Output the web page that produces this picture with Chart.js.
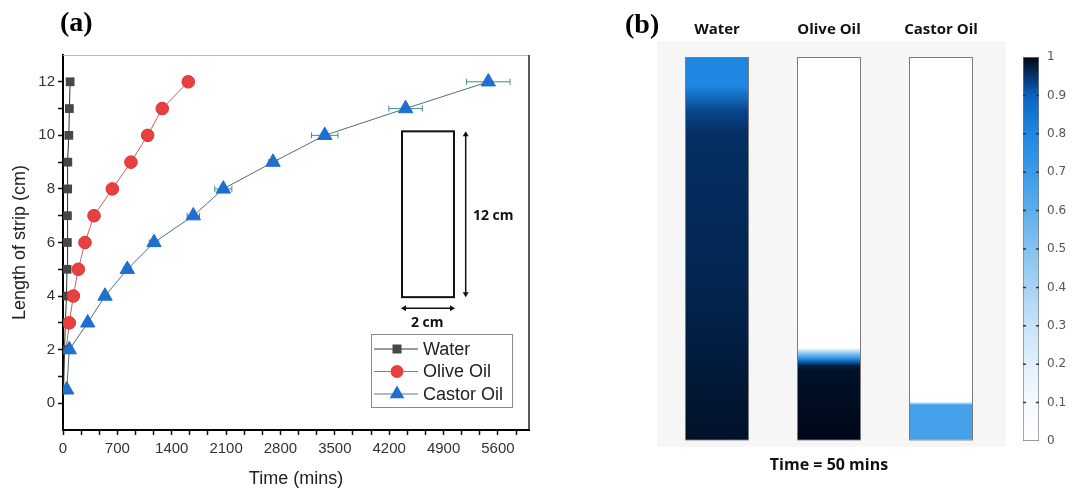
<!DOCTYPE html>
<html>
<head>
<meta charset="utf-8">
<script src="https://cdn.jsdelivr.net/npm/chart.js@4.4.1/dist/chart.umd.min.js"></script>
<style>
  body { margin: 0; background: #fff; width: 1076px; height: 492px; position: relative; overflow: hidden; }
  canvas { position: absolute; top: 0; }
  #chartA { left: 0; }
  #chartB { left: 600px; }
  #chartC { left: 1000px; }
</style>
</head>
<body>
<canvas id="chartA" width="560" height="492"></canvas>
<canvas id="chartB" width="420" height="492"></canvas>
<canvas id="chartC" width="76" height="492"></canvas>
<script>
// ---- panel (a) data: length wetted vs time ----
const WATER_LEN  = [0.5, 2, 3, 4, 5, 6, 7, 8, 9, 10, 11, 12];
const WATER_TIME = [8, 20, 30, 45, 52, 56, 57, 60, 62, 75, 82, 92];
const OLIVE_LEN  = [2, 3, 4, 5, 6, 7, 8, 9, 10, 11, 12];
const OLIVE_TIME = [40, 81, 133, 197, 283, 399, 635, 875, 1090, 1278, 1613];
const CASTOR_LEN  = [0.5, 2, 3, 4, 5, 6, 7, 8, 9, 10, 11, 12];
const CASTOR_TIME = [48, 81, 318, 541, 828, 1172, 1678, 2064, 2704, 3370, 4411, 5476];
const CASTOR_TIME_ERR = [20, 25, 30, 40, 50, 60, 80, 110, 60, 170, 215, 280];

const X_TICKS = [0, 700, 1400, 2100, 2800, 3500, 4200, 4900, 5600];
const Y_TICKS = [0, 2, 4, 6, 8, 10, 12];

// ---- panel (b) data: saturation profiles along the 12 cm strip at t = 50 min ----
const STRIPS = ['Water', 'Olive Oil', 'Castor Oil'];
const STRIP_LEN = [12, 12, 12];
const WATER_PROFILE_CM = [12, 11.1, 10.3, 9.6, 5, 0];
const WATER_PROFILE_S  = [0.80, 0.80, 0.93, 0.955, 0.965, 0.99];
const OLIVE_PROFILE_CM = [12, 2.9, 2.75, 2.55, 2.35, 2.2, 0];
const OLIVE_PROFILE_S  = [0, 0, 0.45, 0.80, 0.97, 0.99, 1];
const CASTOR_PROFILE_CM = [12, 1.22, 1.12, 0];
const CASTOR_PROFILE_S  = [0, 0, 0.67, 0.67];

// colour scale
const CMAP_LEVELS = [0, 0.1, 0.2, 0.3, 0.4, 0.5, 0.6, 0.7, 0.8, 0.9, 0.95, 1];
const CMAP_COLORS = ['#ffffff', '#f5fafe', '#e2f0fc', '#c6e3f8', '#a6d3f4', '#84c2f0',
                     '#5eaeec', '#3a9be8', '#1e88e3', '#0b62c0', '#04336a', '#000818'];
const CBAR_TICKS = [0, 0.1, 0.2, 0.3, 0.4, 0.5, 0.6, 0.7, 0.8, 0.9, 1];

Chart.defaults.font.family = "'Liberation Sans', Arial, sans-serif";
Chart.defaults.color = '#333';

function hexToRgb(h) {
  const n = parseInt(h.slice(1), 16);
  return [(n >> 16) & 255, (n >> 8) & 255, n & 255];
}
function colormap(v) {
  for (let i = 1; i < CMAP_LEVELS.length; i++) {
    if (v <= CMAP_LEVELS[i]) {
      const t = (v - CMAP_LEVELS[i-1]) / (CMAP_LEVELS[i] - CMAP_LEVELS[i-1]);
      const a = hexToRgb(CMAP_COLORS[i-1]), b = hexToRgb(CMAP_COLORS[i]);
      const c = a.map((x, k) => Math.round(x + (b[k] - x) * t));
      return 'rgb(' + c.join(',') + ')';
    }
  }
  return CMAP_COLORS[CMAP_COLORS.length - 1];
}
function toPoints(xs, ys) { return xs.map((x, i) => ({x: x, y: ys[i]})); }

function xTickValues() {
  const out = [];
  X_TICKS.forEach(m => { for (let k = 0; k < 3; k++) { const v = m + k * 700 / 3; if (v <= 6000) out.push(v); } });
  return out;
}

function arrowHead(c, x, y, dir) {
  // dir: 'up','down','left','right'
  const s = 5;
  c.beginPath();
  if (dir === 'up')    { c.moveTo(x, y); c.lineTo(x - 3, y + s); c.lineTo(x + 3, y + s); }
  if (dir === 'down')  { c.moveTo(x, y); c.lineTo(x - 3, y - s); c.lineTo(x + 3, y - s); }
  if (dir === 'left')  { c.moveTo(x, y); c.lineTo(x + s, y - 3); c.lineTo(x + s, y + 3); }
  if (dir === 'right') { c.moveTo(x, y); c.lineTo(x - s, y - 3); c.lineTo(x - s, y + 3); }
  c.closePath();
  c.fill();
}

function marker(c, style, x, y, color) {
  c.fillStyle = color;
  c.beginPath();
  if (style === 'rect') { c.fillRect(x - 4.5, y - 4.5, 9, 9); return; }
  if (style === 'circle') { c.arc(x, y, 6.5, 0, Math.PI * 2); }
  if (style === 'triangle') { c.moveTo(x, y - 8.5); c.lineTo(x + 7.4, y + 4.3); c.lineTo(x - 7.4, y + 4.3); c.closePath(); }
  c.fill();
}

const extrasA = {
  id: 'extrasA',
  beforeDatasetsDraw(chart) {
    // horizontal error bars of castor oil
    const c = chart.ctx, xs = chart.scales.x, ys = chart.scales.y;
    c.save();
    c.strokeStyle = '#3c8f8c';
    c.lineWidth = 1;
    CASTOR_TIME.forEach((t, i) => {
      const e = CASTOR_TIME_ERR[i];
      const y = ys.getPixelForValue(CASTOR_LEN[i]);
      const x0 = xs.getPixelForValue(t - e), x1 = xs.getPixelForValue(t + e);
      c.beginPath();
      c.moveTo(x0, y); c.lineTo(x1, y);
      c.moveTo(x0, y - 3); c.lineTo(x0, y + 3);
      c.moveTo(x1, y - 3); c.lineTo(x1, y + 3);
      c.stroke();
    });
    c.restore();
  },
  afterDraw(chart) {
    const c = chart.ctx, a = chart.chartArea, xs = chart.scales.x, ys = chart.scales.y;
    c.save();
    // top and right frame
    c.strokeStyle = '#bbbbbb'; c.lineWidth = 1;
    c.beginPath(); c.moveTo(a.left, a.top + 0.5); c.lineTo(a.right, a.top + 0.5); c.stroke();
    c.strokeStyle = '#222'; c.lineWidth = 1.5;
    c.beginPath(); c.moveTo(a.right, a.top); c.lineTo(a.right, a.bottom); c.stroke();

    // inset: strip schematic
    const rl = xs.getPixelForValue(4365), rr = xs.getPixelForValue(5034);
    const rt = ys.getPixelForValue(10.15), rb = ys.getPixelForValue(3.96);
    c.strokeStyle = '#111'; c.lineWidth = 2;
    c.strokeRect(rl, rt, rr - rl, rb - rt);
    c.fillStyle = '#111'; c.lineWidth = 1.5;
    const ax = xs.getPixelForValue(5185);
    c.beginPath(); c.moveTo(ax, rt + 2); c.lineTo(ax, rb - 2); c.stroke();
    arrowHead(c, ax, rt, 'up'); arrowHead(c, ax, rb, 'down');
    const ay = ys.getPixelForValue(3.55);
    c.beginPath(); c.moveTo(rl + 2, ay); c.lineTo(rr - 2, ay); c.stroke();
    arrowHead(c, rl - 1, ay, 'left'); arrowHead(c, rr + 1, ay, 'right');
    c.font = "bold 14px 'Open Sans', sans-serif";
    c.textAlign = 'center'; c.textBaseline = 'middle';
    c.fillText('12 cm', xs.getPixelForValue(5540), ys.getPixelForValue(7.0));
    c.fillText('2 cm', xs.getPixelForValue(4690), ys.getPixelForValue(3.0));

    // legend
    const lx = 371, ly = 334, lw = 141, lh = 73;
    c.fillStyle = '#fff'; c.fillRect(lx, ly, lw, lh);
    c.strokeStyle = '#8a8a8a'; c.lineWidth = 1;
    c.strokeRect(lx + 0.5, ly + 0.5, lw, lh);
    const entries = [
      ['Water', '#333333', 'rect', '#474747'],
      ['Olive Oil', '#c46060', 'circle', '#e8403f'],
      ['Castor Oil', '#5a7a7a', 'triangle', '#1e6fd0']
    ];
    c.font = "18px 'Liberation Sans', Arial, sans-serif";
    c.textAlign = 'left'; c.textBaseline = 'middle';
    entries.forEach((e, i) => {
      const y = ly + 15 + i * 22.5;
      c.strokeStyle = e[1]; c.lineWidth = 1;
      c.beginPath(); c.moveTo(lx + 3, y); c.lineTo(lx + 47, y); c.stroke();
      marker(c, e[2], lx + 26, y, e[3]);
      c.fillStyle = '#222';
      c.fillText(e[0], lx + 52, y + 1);
    });

    // panel label
    c.fillStyle = '#000';
    c.font = "bold 28px 'Liberation Serif', 'Times New Roman', serif";
    c.textAlign = 'left'; c.textBaseline = 'alphabetic';
    c.fillText('(a)', 60, 31);
    c.restore();
  }
};

new Chart(document.getElementById('chartA'), {
  type: 'line',
  data: {
    datasets: [
      {
        label: 'Water', data: toPoints(WATER_TIME, WATER_LEN), order: 3,
        borderColor: '#333333', borderWidth: 1, backgroundColor: '#474747',
        pointStyle: 'rect', pointRadius: 6.2, pointBorderWidth: 0, tension: 0
      },
      {
        label: 'Olive Oil', data: toPoints(OLIVE_TIME, OLIVE_LEN), order: 2,
        borderColor: '#c46060', borderWidth: 1, backgroundColor: '#e8403f',
        pointBorderColor: '#d83434', pointBorderWidth: 1,
        pointStyle: 'circle', pointRadius: (ctx) => ctx.dataIndex === 0 ? 0 : 6.3, tension: 0
      },
      {
        label: 'Castor Oil', data: toPoints(CASTOR_TIME, CASTOR_LEN), order: 1,
        borderColor: '#4f6f6f', borderWidth: 1, backgroundColor: '#1e6fd0',
        pointBorderColor: '#1e6fd0', pointBorderWidth: 1,
        pointStyle: 'triangle', pointRadius: 8.3, tension: 0
      }
    ]
  },
  options: {
    responsive: false,
    animation: false,
    events: [],
    layout: { padding: { left: 0, top: 55, right: 31, bottom: 0 } },
    plugins: { legend: { display: false }, tooltip: { enabled: false } },
    scales: {
      x: {
        type: 'linear', min: 0, max: 6000,
        afterBuildTicks: (axis) => { axis.ticks = xTickValues().map(v => ({value: v})); },
        afterFit: (axis) => { axis.height = 62; },
        ticks: {
          autoSkip: false, maxRotation: 0, padding: 5,
          font: { size: 15 }, color: '#333',
          callback: (v) => {
            const r = Math.round(v);
            return (Math.abs(v - r) < 0.01 && X_TICKS.includes(r)) ? String(r) : '';
          }
        },
        grid: { drawOnChartArea: false, tickLength: 5, color: '#111', tickWidth: 1.5 },
        border: { color: '#000', width: 2 },
        title: { display: true, text: 'Time (mins)', font: { size: 18 }, color: '#222', padding: { top: 0, bottom: 2 } }
      },
      y: {
        type: 'linear', min: -1, max: 13,
        afterBuildTicks: (axis) => {
          const t = []; for (let v = 0; v <= 12; v++) t.push({value: v}); axis.ticks = t;
        },
        afterFit: (axis) => { axis.width = 63; },
        ticks: {
          autoSkip: false, padding: 3, font: { size: 15 }, color: '#333',
          callback: (v) => Y_TICKS.includes(v) ? String(v) : ''
        },
        grid: { drawOnChartArea: false, tickLength: 5, color: '#111', tickWidth: 1.5 },
        border: { color: '#000', width: 2 },
        title: { display: true, text: 'Length of strip (cm)', font: { size: 18 }, color: '#222', padding: { top: 9, bottom: 0 } }
      }
    }
  },
  plugins: [extrasA]
});

// ---- panel (b) ----
const PROFILES_CM = [WATER_PROFILE_CM, OLIVE_PROFILE_CM, CASTOR_PROFILE_CM];
const PROFILES_S = [WATER_PROFILE_S, OLIVE_PROFILE_S, CASTOR_PROFILE_S];

const extrasB = {
  id: 'extrasB',
  beforeDraw(chart) {
    const c = chart.ctx, a = chart.chartArea;
    c.save();
    c.fillStyle = '#f6f6f6';
    c.fillRect(a.left - 4, a.top - 16, a.right - a.left + 13, a.bottom - a.top + 22);
    c.fillStyle = '#000';
    c.font = "bold 28px 'Liberation Serif', 'Times New Roman', serif";
    c.textBaseline = 'alphabetic';
    c.fillText('(b)', 25, 33);
    c.restore();
  }
};

new Chart(document.getElementById('chartB'), {
  type: 'bar',
  data: {
    labels: STRIPS,
    datasets: [{
      data: STRIP_LEN,
      borderColor: '#7a7a7a', borderWidth: 1, borderSkipped: false,
      barPercentage: 1, categoryPercentage: 64 / 112,
      backgroundColor: (ctx) => {
        const chart = ctx.chart;
        if (!chart.chartArea) return '#fff';
        const ys = chart.scales.y;
        const y0 = ys.getPixelForValue(12), y1 = ys.getPixelForValue(0);
        const g = chart.ctx.createLinearGradient(0, y0, 0, y1);
        const cm = PROFILES_CM[ctx.dataIndex], s = PROFILES_S[ctx.dataIndex];
        cm.forEach((p, i) => {
          const off = (ys.getPixelForValue(p) - y0) / (y1 - y0);
          g.addColorStop(Math.min(1, Math.max(0, off)), colormap(s[i]));
        });
        return g;
      }
    }]
  },
  options: {
    responsive: false,
    animation: false,
    events: [],
    layout: { padding: { left: 61, right: 23, top: 0, bottom: 17 } },
    plugins: {
      legend: { display: false }, tooltip: { enabled: false },
      title: {
        display: true, position: 'bottom', text: 'Time = 50 mins', color: '#111',
        font: { family: "'Open Sans', sans-serif", size: 16, weight: 'bold' },
        padding: { top: 15, bottom: 0 }
      }
    },
    scales: {
      x: {
        position: 'top',
        afterFit: (axis) => { axis.height = 57; },
        grid: { display: false, drawTicks: false },
        border: { display: false },
        ticks: { padding: 18, color: '#111', font: { family: "'Open Sans', sans-serif", size: 15, weight: 'bold' } }
      },
      y: { display: false, min: 0, max: 12 }
    }
  },
  plugins: [extrasB]
});

// ---- colour bar ----
const cbarTicks = {
  id: 'cbarTicks',
  afterDatasetsDraw(chart) {
    const c = chart.ctx, a = chart.chartArea, ys = chart.scales.y;
    c.save();
    c.strokeStyle = '#333'; c.lineWidth = 1.5;
    CBAR_TICKS.slice(1, -1).forEach(v => {
      const y = ys.getPixelForValue(v);
      c.beginPath();
      c.moveTo(a.left, y); c.lineTo(a.left + 3, y);
      c.moveTo(a.right - 3, y); c.lineTo(a.right, y);
      c.stroke();
    });
    c.restore();
  }
};

new Chart(document.getElementById('chartC'), {
  type: 'bar',
  data: {
    labels: [''],
    datasets: [{
      data: [1],
      borderColor: '#7a7a7a', borderWidth: 1, borderSkipped: false,
      barPercentage: 1, categoryPercentage: 1,
      backgroundColor: (ctx) => {
        const chart = ctx.chart;
        if (!chart.chartArea) return '#fff';
        const ys = chart.scales.y;
        const y0 = ys.getPixelForValue(0), y1 = ys.getPixelForValue(1);
        const g = chart.ctx.createLinearGradient(0, y0, 0, y1);
        CMAP_LEVELS.forEach((v, i) => g.addColorStop(v, CMAP_COLORS[i]));
        return g;
      }
    }]
  },
  options: {
    responsive: false,
    animation: false,
    events: [],
    layout: { padding: { left: 23, right: 0, top: 57, bottom: 51 } },
    plugins: { legend: { display: false }, tooltip: { enabled: false } },
    scales: {
      x: { display: false },
      y: {
        position: 'right', min: 0, max: 1,
        afterBuildTicks: (axis) => { axis.ticks = CBAR_TICKS.map(v => ({value: v})); },
        afterFit: (axis) => { axis.width = 37; },
        grid: { display: false, drawTicks: false },
        border: { display: false },
        ticks: {
          padding: 8, color: '#555', font: { family: "'DejaVu Sans', sans-serif", size: 12 },
          callback: (v) => (v === 0 || v === 1) ? String(v) : v.toFixed(1)
        }
      }
    }
  },
  plugins: [cbarTicks]
});
</script>
</body>
</html>
